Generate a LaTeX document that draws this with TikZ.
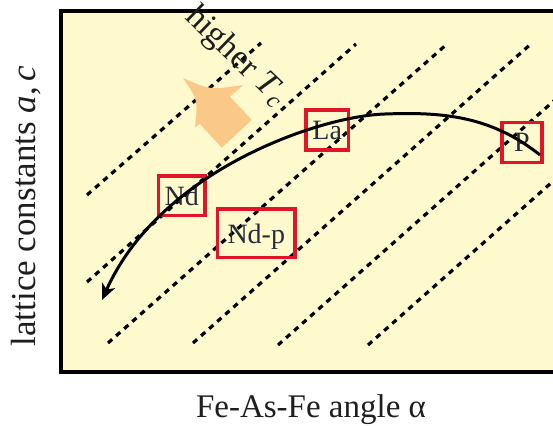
\documentclass[tikz,border=0pt]{standalone}
\usepackage{fontspec}
\setmainfont{Liberation Serif}
\usetikzlibrary{arrows.meta}
\definecolor{bgyellow}{RGB}{255,250,205}
\definecolor{boxred}{RGB}{225,20,40}
\definecolor{arroworange}{RGB}{250,200,135}
\definecolor{labeltext}{RGB}{35,45,60}
\definecolor{axistext}{RGB}{30,30,30}
\begin{document}
\begin{tikzpicture}[x=1pt,y=-1pt,
  dotline/.style={line width=3.2pt, dash pattern=on 5.5pt off 5.3pt},
  elbox/.style={draw=boxred, line width=3.6pt, inner sep=0pt, text=labeltext,
    font=\fontsize{28}{28}\selectfont, text depth=0pt},
  trendarrow/.style={line width=3pt, -{Stealth[length=16pt,width=14pt,inset=4.5pt]}},
  axislabel/.style={text=axistext, inner sep=0pt}
]
\useasboundingbox (0,0) rectangle (553,425);
\begin{scope}
\clip (0,0) rectangle (553,425);
\draw[line width=3.8pt, fill=bgyellow] (61,11.3) rectangle (575,372);
% dotted iso-Tc lines
\draw[dotline] (87,195) -- (261,43);
\draw[dotline] (87,282) -- (356,44);
\draw[dotline] (108,343) -- (447,44);
\draw[dotline] (193,343) -- (532,43);
\draw[dotline] (278,345) -- (617,45);
\draw[dotline] (368,345) -- (707,45);
% orange block arrow
\fill[arroworange] (183,78) .. controls (210,90) .. (243.3,85) -- (230,96.7)
  -- (251.7,120) -- (221.7,147.7) -- (200,124) -- (195,127)
  .. controls (198,100) .. (183,78) -- cycle;
% element boxes
\node[elbox, minimum width=46.7pt, minimum height=39.6pt] (nd) at (181.7,195.5) {Nd};
\node[elbox, minimum width=77.5pt, minimum height=48.7pt] (ndp) at (256.3,233.3) {Nd-p};
\node[elbox, minimum width=42.5pt, minimum height=40pt] (la) at (327.2,130) {La};
\node[elbox, minimum width=39.5pt, minimum height=40pt] (p) at (522,142.3) {P};
% trend curve
\coordinate (cstart) at (540,155);
\coordinate (ctop) at (385,114);
\coordinate (cend) at (102,300);
\draw[trendarrow] (cstart) .. controls (490,115) and (440,112) .. (ctop)
  .. controls (320,116) and (160,170) .. (cend);
% higher Tc
\node[rotate=-44, text=axistext, font=\fontsize{34}{34}\selectfont, inner sep=0pt] (tc) at (236,57)
  {higher \textit{T}\textsubscript{\textit{c}}};
\end{scope}
\node[axislabel, rotate=90, anchor=base, font=\fontsize{35}{35}\selectfont] (ylab) at (35,206)
  {lattice constants \textit{a},\,\textit{c}};
\node[axislabel, anchor=base, font=\fontsize{33}{33}\selectfont] (xlab) at (311,417.5)
  {Fe-As-Fe angle α};
\end{tikzpicture}
\end{document}
